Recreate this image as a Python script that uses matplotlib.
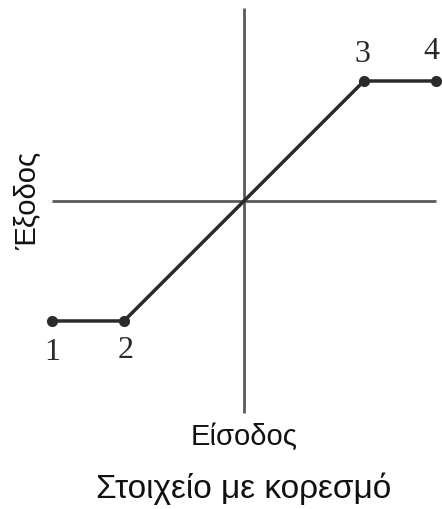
import numpy as np
import matplotlib.pyplot as plt

# saturation element: input -> output transfer characteristic
x_in = [-1.6, -1.0, 1.0, 1.6]
y_out = [-1.0, -1.0, 1.0, 1.0]
point_labels = ['1', '2', '3', '4']

fig = plt.figure(figsize=(4.42, 5.09), dpi=100)
ax = fig.add_axes([0, 0, 1, 1])
ax.set_xlim(-2.033, 1.65)
ax.set_ylim(-2.567, 1.675)
ax.axis('off')

# cross-hair axes
ax.plot([-1.6, 1.6], [0, 0], color='#5a5a5a', lw=2.0, solid_capstyle='butt')
ax.plot([0, 0], [-1.77, 1.61], color='#5a5a5a', lw=2.0, solid_capstyle='butt')

# the characteristic itself
ax.plot(x_in, y_out, color='#2a2a2a', lw=2.5, marker='o', markersize=7,
        markerfacecolor='#2a2a2a', markeredgecolor='#2a2a2a')

offsets = [(0, -0.26), (0.01, -0.25), (-0.01, 0.22), (-0.035, 0.245)]
for x, y, lab, (dx, dy) in zip(x_in, y_out, point_labels, offsets):
    ax.text(x + dx, y + dy, lab, ha='center', va='center',
            family='Liberation Serif', fontsize=23, color='#2a2a2a')

ax.text(0, -1.97, 'Είσοδος', ha='center', va='center',
        family='Liberation Sans', fontsize=21, color='#111111')
ax.text(-1.8, 0.0, 'Έξοδος', ha='center', va='center', rotation=90,
        family='Liberation Sans', fontsize=21, color='#111111')
ax.text(0, -2.4, 'Στοιχείο με κορεσμό', ha='center', va='center',
        family='Liberation Sans', fontsize=24, color='#111111')

fig.savefig('out.png', dpi=100)
